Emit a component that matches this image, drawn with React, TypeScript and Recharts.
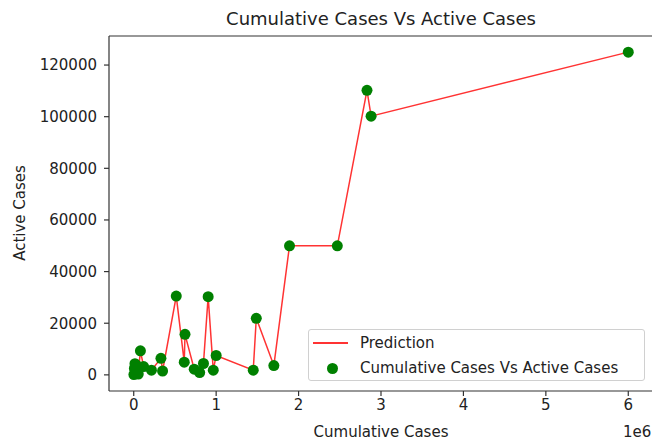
import React from 'react'
import { ComposedChart, XAxis, YAxis, Scatter, Line, ReferenceLine } from 'recharts'

// values, sorted by cumulative cases
const cumulativeCases = [
  2000, 8000, 15000, 22000, 30000, 40000, 55000, 81000, 120000, 215000, 330000, 350000,
  516000, 613000, 622000, 734000, 800000, 846000, 903000, 965000, 1000000, 1450000,
  1487000, 1700000, 1890000, 2470000, 2830000, 2880000, 6000000,
]
const activeCases = [
  100, 2500, 4300, 500, 3800, 1200, 300, 9300, 3200, 1800, 6400, 1500,
  30500, 4900, 15700, 2200, 900, 4400, 30300, 1800, 7500, 1800,
  21900, 3600, 50000, 50000, 110200, 100200, 125000,
]
const xTicks = [0, 1000000, 2000000, 3000000, 4000000, 5000000, 6000000]
const yTicks = [0, 20000, 40000, 60000, 80000, 100000, 120000]

const points = cumulativeCases.map((x, i) => ({ x, y: activeCases[i] }))

const FONT = '"DejaVu Sans", sans-serif'
const TXT = '#222'
const AXIS = '#333'
const Y_MAX = 131250

const abs = (style: React.CSSProperties): React.CSSProperties => ({
  position: 'absolute',
  whiteSpace: 'nowrap',
  fontFamily: FONT,
  color: TXT,
  ...style,
})

export default function App() {
  return (
    <div style={{ position: 'absolute', left: 0, top: 0, width: 652, height: 445, overflow: 'hidden', background: '#fff' }}>
      <ComposedChart width={653} height={445} margin={{ top: 36, right: 0, left: 0, bottom: 0 }}>
        <XAxis
          type="number"
          dataKey="x"
          domain={[-300000, 6300000]}
          ticks={xTicks}
          tickFormatter={(v) => String(v / 1000000)}
          allowDataOverflow
          height={54}
          tickSize={5}
          tickMargin={3}
          stroke={AXIS}
          strokeWidth={1.2}
          tick={{ fontSize: 15, fill: TXT, fontFamily: FONT }}
        />
        <YAxis
          type="number"
          domain={[-6250, Y_MAX]}
          ticks={yTicks}
          allowDataOverflow
          width={109}
          tickSize={5}
          tickMargin={7}
          stroke={AXIS}
          strokeWidth={1.2}
          tick={{ fontSize: 15, fill: TXT, fontFamily: FONT }}
        />
        {/* top spine */}
        <ReferenceLine y={Y_MAX} stroke={AXIS} strokeWidth={1.2} ifOverflow="visible" />
        <Scatter
          data={points}
          dataKey="y"
          isAnimationActive={false}
          shape={(p: any) => <circle cx={p.cx} cy={p.cy} r={5.5} fill="#008000" />}
        />
        <Line
          data={points}
          dataKey="y"
          type="linear"
          stroke="#ff3333"
          strokeWidth={1.5}
          dot={false}
          activeDot={false}
          isAnimationActive={false}
        />
      </ComposedChart>

      <div style={abs({ left: 381, top: 18, transform: 'translate(-50%, -50%)', fontSize: 18 })}>
        Cumulative Cases Vs Active Cases
      </div>
      <div style={abs({ left: 20, top: 213, transform: 'translate(-50%, -50%) rotate(-90deg)', fontSize: 15 })}>
        Active Cases
      </div>
      <div style={abs({ left: 381, top: 432, transform: 'translate(-50%, -50%)', fontSize: 15 })}>
        Cumulative Cases
      </div>
      <div style={abs({ left: 623, top: 432, transform: 'translateY(-50%)', fontSize: 15 })}>1e6</div>

      <div
        style={{
          position: 'absolute',
          left: 308,
          top: 329,
          width: 337,
          height: 52,
          border: '1px solid #d0d0d0',
          borderRadius: 3,
          background: 'rgba(255,255,255,0.8)',
          boxSizing: 'border-box',
        }}
      />
      <div style={{ position: 'absolute', left: 313, top: 342, width: 35, height: 1.5, background: '#ff3333' }} />
      <div style={abs({ left: 360, top: 343, transform: 'translateY(-50%)', fontSize: 15 })}>Prediction</div>
      <div style={{ position: 'absolute', left: 326.5, top: 362.5, width: 11, height: 11, borderRadius: '50%', background: '#008000' }} />
      <div style={abs({ left: 360, top: 368, transform: 'translateY(-50%)', fontSize: 15 })}>
        Cumulative Cases Vs Active Cases
      </div>
    </div>
  )
}
